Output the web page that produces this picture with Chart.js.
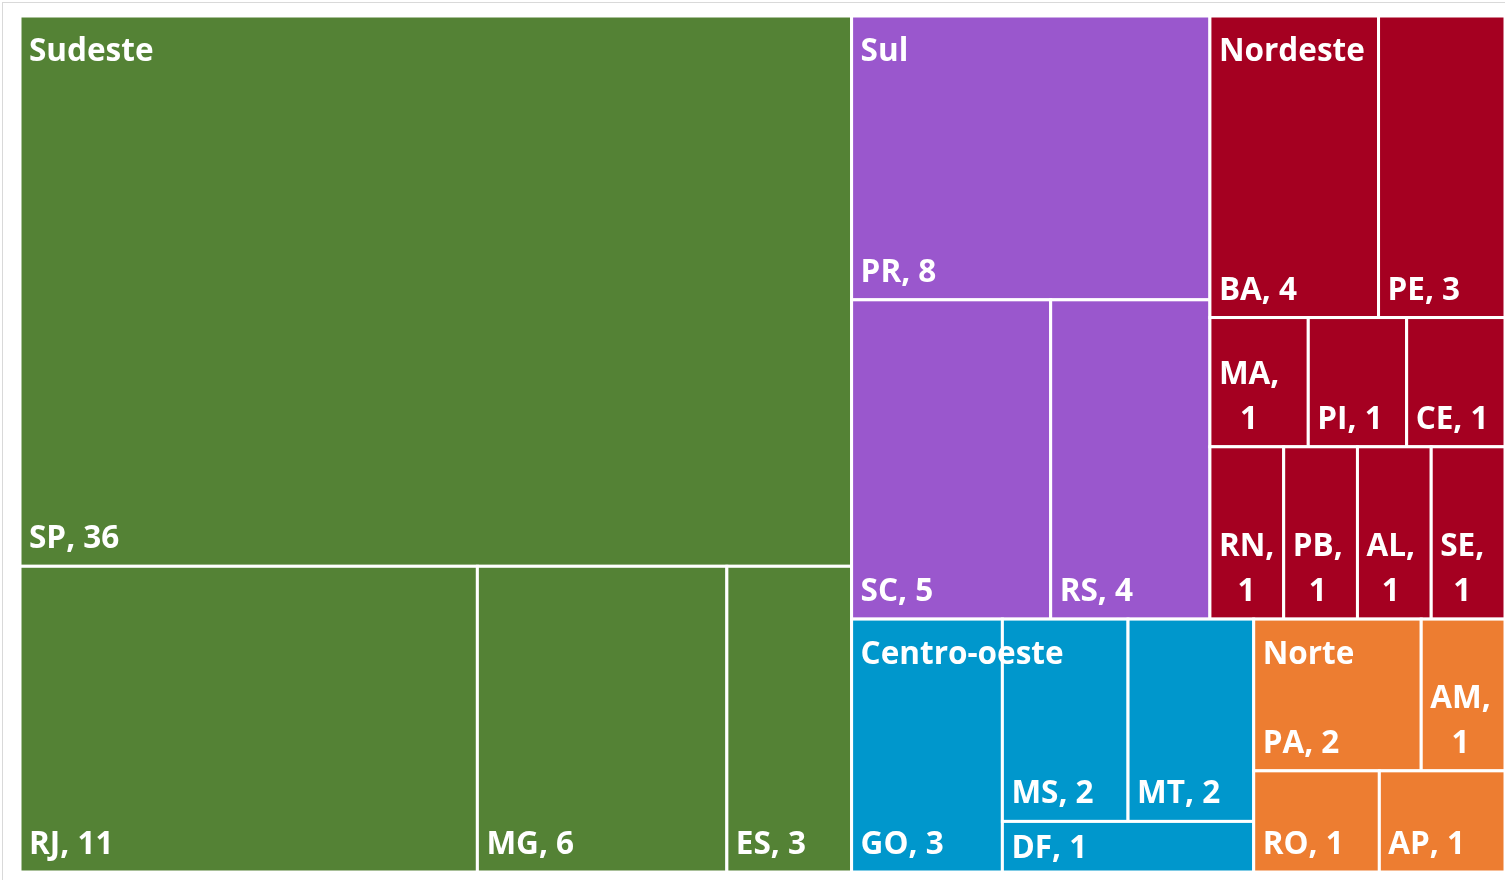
<!DOCTYPE html>
<html>
<head>
<meta charset="utf-8">
<script src="https://cdn.jsdelivr.net/npm/chart.js@4.4.1/dist/chart.umd.min.js"></script>
<style>
	body { margin: 0; background: #fff; overflow: hidden; }
	#frame { position: absolute; left: 2px; top: 2px; width: 1600px; height: 1000px; border: 1px solid #d9d9d9; }
	#box { position: absolute; left: 0; top: 0; width: 1505px; height: 880px; }
</style>
</head>
<body>
<div id="frame"></div>
<div id="box"><canvas id="chart"></canvas></div>
<script>
const regions = ["Sudeste", "Sul", "Nordeste", "Centro-oeste", "Norte"];
const sudesteStates = ["SP", "RJ", "MG", "ES"];
const sudesteValues = [36, 11, 6, 3];
const sulStates = ["PR", "SC", "RS"];
const sulValues = [8, 5, 4];
const nordesteStates = ["BA", "PE", "MA", "PI", "CE", "RN", "PB", "AL", "SE"];
const nordesteValues = [4, 3, 1, 1, 1, 1, 1, 1, 1];
const centroStates = ["GO", "MS", "MT", "DF"];
const centroValues = [3, 2, 2, 1];
const norteStates = ["PA", "AM", "RO", "AP"];
const norteValues = [2, 1, 1, 1];

const regionStates = [sudesteStates, sulStates, nordesteStates, centroStates, norteStates];
const regionValues = [sudesteValues, sulValues, nordesteValues, centroValues, norteValues];
const colors = ["#548235", "#9a57cd", "#a50021", "#0097cc", "#ed7d31"];

// value units of the plot box (same proportions as the chart area)
const W = 1485, H = 856;
const FONT = 'bold 31.5px "Open Sans"';

const sum = (a) => a.reduce((s, v) => s + v, 0);

// squarified layout, score = worst |w/h - 1| of the row
function placeRow(vals, r, total, vertical) {
	const rowSum = sum(vals);
	const out = [];
	if (vertical) {
		const cw = r.w * rowSum / total;
		let y = r.y;
		for (const v of vals) {
			const h = r.h * v / rowSum;
			out.push({ x: r.x, y: y, w: cw, h: h });
			y += h;
		}
	} else {
		const ch = r.h * rowSum / total;
		let x = r.x;
		for (const v of vals) {
			const w = r.w * v / rowSum;
			out.push({ x: x, y: r.y, w: w, h: ch });
			x += w;
		}
	}
	return out;
}

function worst(rects) {
	let m = 0;
	for (const c of rects) m = Math.max(m, Math.abs(c.w / c.h - 1));
	return m;
}

function squarify(values, rect) {
	const out = [];
	let r = { ...rect };
	let total = sum(values);
	let i = 0;
	while (i < values.length) {
		const vertical = r.w >= r.h;
		let j = i + 1;
		let best = worst(placeRow(values.slice(i, j), r, total, vertical));
		while (j < values.length) {
			const s = worst(placeRow(values.slice(i, j + 1), r, total, vertical));
			if (s > best) break;
			best = s;
			j++;
		}
		const vals = values.slice(i, j);
		const rowSum = sum(vals);
		out.push(...placeRow(vals, r, total, vertical));
		if (vertical) {
			const cw = r.w * rowSum / total;
			r = { x: r.x + cw, y: r.y, w: r.w - cw, h: r.h };
		} else {
			const ch = r.h * rowSum / total;
			r = { x: r.x, y: r.y + ch, w: r.w, h: r.h - ch };
		}
		total -= rowSum;
		i = j;
	}
	return out;
}

const regionRects = squarify(regionValues.map(sum), { x: 0, y: 0, w: W, h: H });
const cells = [];
regionRects.forEach((rr, ri) => {
	squarify(regionValues[ri], rr).forEach((c, k) => {
		cells.push({ ...c, region: ri, first: k == 0, label: regionStates[ri][k] + ", " + regionValues[ri][k] });
	});
});

const treemapPlugin = {
	id: "treemap",
	afterDatasetsDraw(chart) {
		const ctx = chart.ctx;
		const xs = chart.scales.x;
		const ys = chart.scales.y;
		const px = (c) => {
			const x0 = xs.getPixelForValue(c.x), x1 = xs.getPixelForValue(c.x + c.w);
			const y0 = ys.getPixelForValue(c.y), y1 = ys.getPixelForValue(c.y + c.h);
			return { x0, x1, y0, y1 };
		};
		ctx.save();
		for (const c of cells) {
			const p = px(c);
			ctx.fillStyle = colors[c.region];
			ctx.fillRect(p.x0, p.y0, p.x1 - p.x0, p.y1 - p.y0);
			ctx.strokeStyle = "#fff";
			ctx.lineWidth = 3;
			ctx.strokeRect(p.x0, p.y0, p.x1 - p.x0, p.y1 - p.y0);
		}
		ctx.font = FONT;
		ctx.fillStyle = "#fff";
		ctx.textBaseline = "alphabetic";
		for (const c of cells) {
			const p = px(c);
			const pad = 9;
			let lines = [c.label];
			if (ctx.measureText(c.label).width > p.x1 - p.x0 - 2 * pad) {
				lines = c.label.split(" ");
			}
			const maxW = Math.max(...lines.map((l) => ctx.measureText(l).width));
			// bottom aligned, but short cells keep the text near the top
			let base = Math.max(p.y1 - 18, p.y0 + 37) - (lines.length - 1) * 45;
			for (const l of lines) {
				ctx.fillText(l, p.x0 + pad + (maxW - ctx.measureText(l).width) / 2, base);
				base += 45;
			}
			if (c.first) {
				ctx.fillText(regions[c.region], p.x0 + pad, p.y0 + 45);
			}
		}
		ctx.restore();
	},
};

new Chart(document.getElementById("chart"), {
	type: "scatter",
	data: {
		datasets: [
			{
				data: cells.map((c) => ({ x: c.x + c.w / 2, y: c.y + c.h / 2 })),
				pointRadius: 0,
			},
		],
	},
	options: {
		responsive: true,
		maintainAspectRatio: false,
		animation: false,
		layout: { padding: { left: 20, top: 16, right: 0, bottom: 8 } },
		plugins: { legend: { display: false }, tooltip: { enabled: false } },
		scales: {
			x: { type: "linear", min: 0, max: W, display: false },
			y: { type: "linear", min: 0, max: H, reverse: true, display: false },
		},
	},
	plugins: [treemapPlugin],
});
</script>
</body>
</html>
